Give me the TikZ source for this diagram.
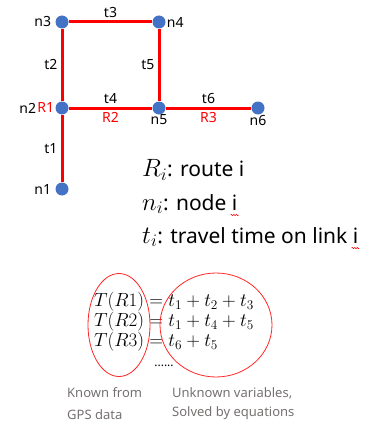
\RequirePackage{fix-cm}
\documentclass[tikz,border=0pt]{standalone}
\usepackage{fontspec}
\setmainfont{Noto Sans}
\usepackage{tikz}
\usetikzlibrary{positioning,shapes.geometric,decorations.pathmorphing}
\definecolor{dotblue}{HTML}{4472C4}
\definecolor{linkred}{HTML}{FF0000}
\definecolor{notegray}{HTML}{767171}
\newcommand{\legmath}[1]{{\fontsize{25}{25}\selectfont$#1$}}

\begin{document}
\begin{tikzpicture}[x=1pt,y=-1pt,
  dot/.style={circle,fill=dotblue,inner sep=0pt,minimum size=13pt},
  link/.style={draw=linkred,line width=3pt},
  lab/.style={font=\fontsize{14}{16}\selectfont,inner sep=3pt},
  rlab/.style={lab,text=linkred},
  legend/.style={anchor=west,font=\fontsize{21}{24}\selectfont,inner sep=0pt},
  eqn/.style={anchor=west,font=\fontsize{19}{20}\selectfont,inner sep=0pt},
  ring/.style={ellipse,draw=linkred!85,line width=0.8pt,inner sep=0pt},
  note/.style={anchor=west,text=notegray,font=\fontsize{13}{15}\selectfont,inner sep=0pt},
  squiggle/.style={draw=linkred,line width=0.5pt,decorate,decoration={snake,amplitude=0.7pt,segment length=2.5pt}}
]
  \useasboundingbox (0,0) rectangle (374,428);
  % network
  \node[dot,label={[lab,label distance=1pt]left:n1}] (n1) at (62,189) {};
  \node[dot,label={[lab,label distance=16pt]left:n2}] (n2) at (62,108) {};
  \node[dot,label={[lab,label distance=1pt]left:n3}] (n3) at (62,22) {};
  \node[dot,label={[lab,label distance=-2pt]right:n4}] (n4) at (159,22) {};
  \node[dot,label={[lab,label distance=-3pt]below:n5}] (n5) at (159,108) {};
  \node[dot,label={[lab,label distance=-3pt]below:n6}] (n6) at (258,108) {};
  \node[rlab,left=-2pt of n2] (r1) {R1};
  \draw[link] (n1) -- node[lab,left] (t1) {t1} (n2);
  \draw[link] (n2) -- node[lab,left] (t2) {t2} (n3);
  \draw[link] (n3) -- node[lab,above] (t3) {t3} (n4);
  \draw[link] (n4) -- node[lab,left] (t5) {t5} (n5);
  \draw[link] (n2) -- node[lab,above] (t4) {t4} node[rlab,below] (r2) {R2} (n5);
  \draw[link] (n5) -- node[lab,above] (t6) {t6} node[rlab,below] (r3) {R3} (n6);
  % legend
  \node[legend] (lr) at (142,170) {\legmath{R_i}: route i};
  \node[legend] (ln) at (142,204) {\legmath{n_i}: node i};
  \node[legend] (lt) at (142,237) {\legmath{t_i}: travel time on link i};
  \draw[squiggle] ([xshift=-7pt,yshift=-1pt]ln.south east) -- ([xshift=1pt,yshift=-1pt]ln.south east);
  \draw[squiggle] ([xshift=-7pt,yshift=-1pt]lt.south east) -- ([xshift=1pt,yshift=-1pt]lt.south east);
  % equations
  \node[eqn] (e1) at (94,302) {$T(R1) = t_1 + t_2 + t_3$};
  \node[eqn] (e2) at (94,322) {$T(R2) = t_1 + t_4 + t_5$};
  \node[eqn] (e3) at (94,342) {$T(R3) = t_6 + t_5$};
  \node[font=\fontsize{12}{12}\selectfont,inner sep=0pt] (dots) at (164,366) {......};
  \node[ring,minimum width=62pt,minimum height=103pt] (known) at (119,325) {};
  \node[ring,minimum width=112pt,minimum height=104pt] (unknown) at (216,325) {};
  \node[note] (k1) at (67,393) {Known from};
  \node[note] (k2) at (67,415) {GPS data};
  \node[note] (u1) at (172,393) {Unknown variables,};
  \node[note] (u2) at (172,413) {Solved by equations};
\end{tikzpicture}
\end{document}
